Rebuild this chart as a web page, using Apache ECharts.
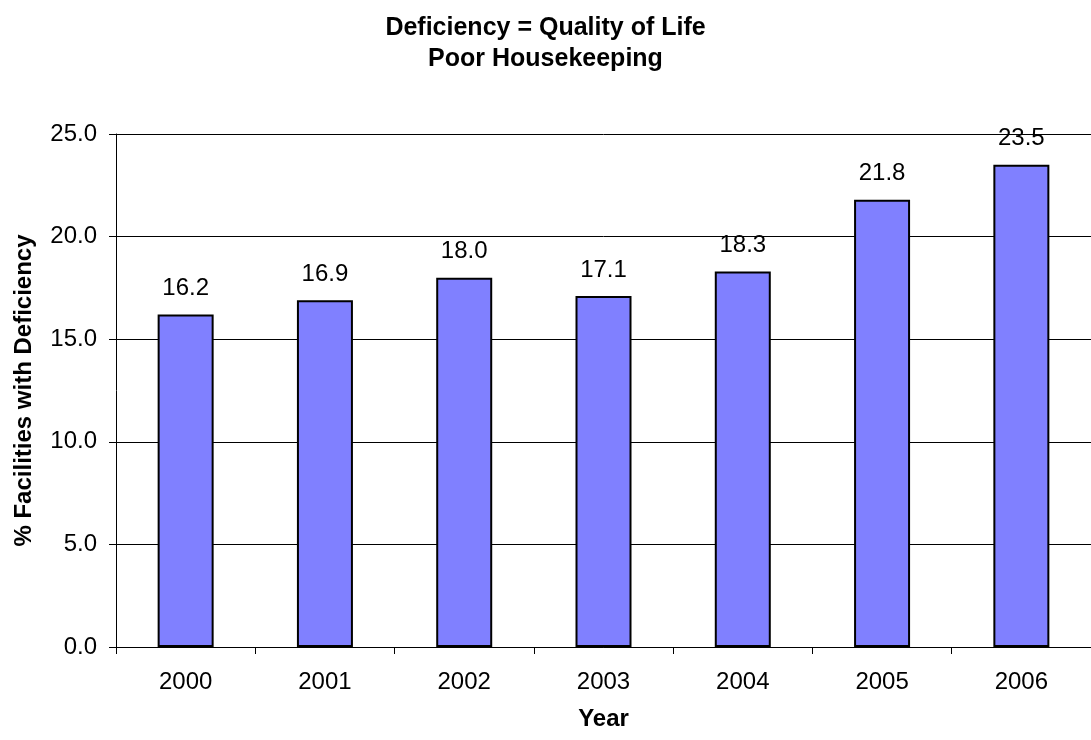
<!DOCTYPE html>
<html>
<head>
<meta charset="utf-8">
<script src="https://cdn.jsdelivr.net/npm/echarts@6/dist/echarts.min.js"></script>
<style>
html,body{margin:0;padding:0;background:#fff;}
#chart{width:1091px;height:740px;}
</style>
</head>
<body>
<div id="chart"></div>
<script>
const titleLines = ["Deficiency = Quality of Life", "Poor Housekeeping"];
const years = ["2000", "2001", "2002", "2003", "2004", "2005", "2006"];
const values = [16.2, 16.9, 18.0, 17.1, 18.3, 21.8, 23.5];
const yMin = 0, yMax = 25, yStep = 5;
const xTitle = "Year";
const yTitle = "% Facilities with Deficiency";

const FONT = "'Liberation Sans', Arial, sans-serif";
const chart = echarts.init(document.getElementById('chart'), null, {renderer: 'canvas'});
chart.setOption({
  animation: false,
  backgroundColor: '#ffffff',
  title: {
    text: titleLines.join('\n'),
    left: 'center',
    top: 8,
    textStyle: {fontFamily: FONT, fontSize: 25, fontWeight: 'bold', color: '#000', lineHeight: 31}
  },
  grid: {left: 116, top: 134, width: 985, height: 513, containLabel: false},
  xAxis: {
    type: 'category',
    data: years,
    boundaryGap: true,
    name: xTitle,
    nameLocation: 'middle',
    nameGap: 60,
    nameTextStyle: {fontFamily: FONT, fontSize: 24, fontWeight: 'bold', color: '#000'},
    axisLine: {show: true, lineStyle: {color: '#000', width: 1}},
    axisTick: {show: true, length: 7, alignWithLabel: false, lineStyle: {color: '#000'}},
    axisLabel: {fontFamily: FONT, fontSize: 24, color: '#000', margin: 23},
    splitLine: {show: false}
  },
  yAxis: {
    type: 'value',
    min: yMin, max: yMax, interval: yStep,
    name: yTitle,
    nameLocation: 'middle',
    nameGap: 80,
    nameTextStyle: {fontFamily: FONT, fontSize: 24, fontWeight: 'bold', color: '#000'},
    axisLine: {show: true, lineStyle: {color: '#000', width: 1}},
    axisTick: {show: true, length: 7, lineStyle: {color: '#000'}},
    axisLabel: {fontFamily: FONT, fontSize: 24, color: '#000', margin: 19,
      formatter: v => v.toFixed(1)},
    splitLine: {show: true, lineStyle: {color: '#000', width: 1}}
  },
  series: [{
    type: 'bar',
    data: values,
    barWidth: 56,
    itemStyle: {color: '#8080FF', borderColor: '#000', borderWidth: 2},
    label: {show: true, position: 'top', distance: 14, fontFamily: FONT, fontSize: 24, color: '#000',
      formatter: p => p.value.toFixed(1)}
  }]
});
</script>
</body>
</html>
